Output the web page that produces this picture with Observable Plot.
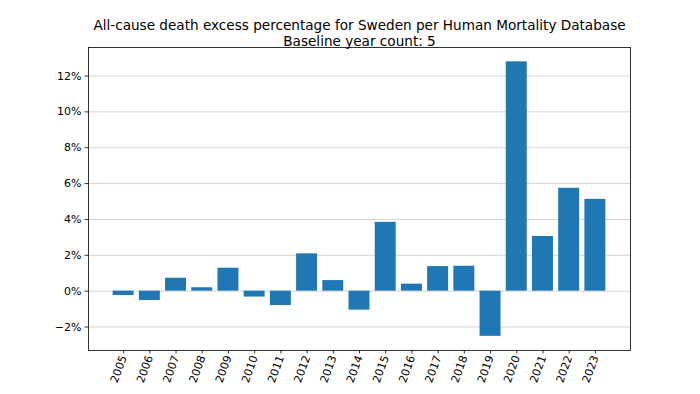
<!DOCTYPE html>
<html>
<head>
<meta charset="utf-8">
<script src="https://cdn.jsdelivr.net/npm/d3@7"></script>
<script src="https://cdn.jsdelivr.net/npm/@observablehq/plot@0.6"></script>
<style>
  html, body { margin: 0; padding: 0; background: #fff; }
  svg { display: block; }
</style>
</head>
<body>
<div id="chart"></div>
<script>
const years = [2005, 2006, 2007, 2008, 2009, 2010, 2011, 2012, 2013, 2014, 2015, 2016, 2017, 2018, 2019, 2020, 2021, 2022, 2023];
const excessPct = [-0.24, -0.52, 0.72, 0.19, 1.28, -0.33, -0.80, 2.08, 0.59, -1.06, 3.84, 0.39, 1.37, 1.39, -2.52, 12.79, 3.05, 5.74, 5.12];
const yTicks = [-2, 0, 2, 4, 6, 8, 10, 12];
const titleLine1 = "All-cause death excess percentage for Sweden per Human Mortality Database";
const titleLine2 = "Baseline year count: 5";

const data = years.map((y, i) => ({year: y, value: excessPct[i]}));
const half = 0.4;

const chart = Plot.plot({
  width: 700,
  height: 394,
  marginLeft: 88,
  marginRight: 70,
  marginTop: 47,
  marginBottom: 44,
  style: {fontFamily: "DejaVu Sans", fontSize: "11px", color: "#000", background: "#fff"},
  x: {type: "linear", domain: [2003.66, 2024.34]},
  y: {domain: [-3.31, 13.59]},
  marks: [
    Plot.gridY(yTicks, {stroke: "#b0b0b0", strokeOpacity: 0.7, strokeWidth: 0.8}),
    Plot.rectY(data, {x1: d => d.year - half, x2: d => d.year + half, y1: 0, y2: "value", fill: "#1f77b4"}),
    Plot.frame({stroke: "#000", strokeWidth: 0.8}),
    Plot.axisY(yTicks, {
      tickSize: 3.5, tickPadding: 3.5, strokeWidth: 0.8,
      tickFormat: d => (d < 0 ? "\u2212" : "") + Math.abs(d) + "%",
      fontSize: 11, fill: "#000", label: null
    }),
    Plot.axisX(years, {
      tickSize: 3.5, tickPadding: 2, strokeWidth: 0.8,
      tickFormat: d => String(d), tickRotate: -70,
      fontSize: 11, fill: "#000", label: null
    }),
    Plot.text([titleLine1], {frameAnchor: "top", dy: -27, fontSize: 13.6, fill: "#000", text: d => d}),
    Plot.text([titleLine2], {frameAnchor: "top", dy: -11, fontSize: 13.6, fill: "#000", text: d => d})
  ]
});
document.getElementById("chart").appendChild(chart);
</script>
</body>
</html>
